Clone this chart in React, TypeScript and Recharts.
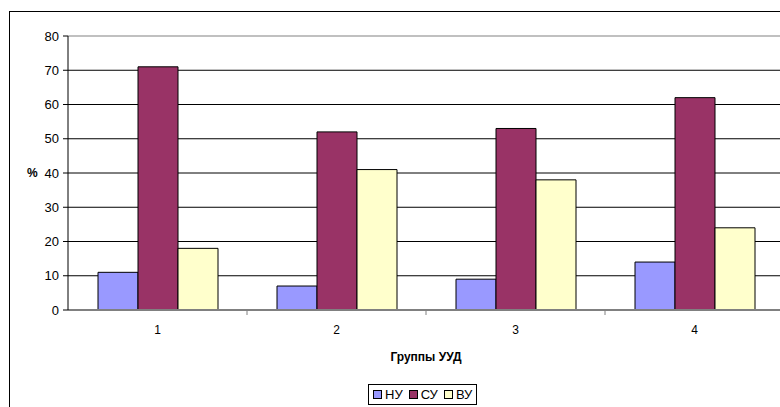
import { BarChart, Bar, XAxis, YAxis, CartesianGrid, Legend, ReferenceLine } from "recharts";

const groups = ["1", "2", "3", "4"];
const nu = [11, 7, 9, 14];
const su = [71, 52, 53, 62];
const vu = [18, 41, 38, 24];
const yTicks = [0, 10, 20, 30, 40, 50, 60, 70, 80];

const series = [
    { key: "nu", name: "НУ", color: "#9999FF" },
    { key: "su", name: "СУ", color: "#993366" },
    { key: "vu", name: "ВУ", color: "#FFFFCC" }
];

const data = groups.map((g, i) => ({ name: g, nu: nu[i], su: su[i], vu: vu[i] }));

const font = "'Liberation Sans', Arial, sans-serif";

// label in the middle of the category, small tick mark on the boundary to its right (Excel style)
function CategoryTick(props: any) {
    const { x, y, payload, index } = props;
    const half = payload && payload.offset ? payload.offset : 0;
    return (
        <g>
            {index < groups.length - 1 && (
                <line x1={x + half} x2={x + half} y1={y - 15} y2={y - 10} stroke="#808080" strokeWidth={1} />
            )}
            <text x={x} y={y} dy="0.71em" textAnchor="middle" fill="#000" fontSize={12} fontFamily={font}>
                {payload.value}
            </text>
        </g>
    );
}

function LegendBox() {
    return (
        <div
            style={{
                display: "inline-flex",
                alignItems: "center",
                border: "1px solid #000",
                background: "#fff",
                padding: "2px 4px",
                fontFamily: font,
                fontSize: 13,
                color: "#000",
                gap: 6
            }}
        >
            {series.map(s => (
                <span key={s.key} style={{ display: "inline-flex", alignItems: "center", gap: 3 }}>
                    <span style={{ width: 7, height: 7, background: s.color, border: "1px solid #000", display: "inline-block" }} />
                    {s.name}
                </span>
            ))}
        </div>
    );
}

export default function App() {
    return (
        <div style={{ position: "absolute", left: 0, top: 0, width: 780, height: 407, overflow: "hidden", background: "#fff" }}>
            <div style={{ position: "absolute", left: 9, top: 11, width: 800, height: 420, border: "1px solid #000" }} />
            <div style={{ position: "absolute", left: 0, top: 0 }}>
                <BarChart
                    width={800}
                    height={407}
                    data={data}
                    margin={{ top: 36, right: 16, left: 8, bottom: 46 }}
                    barCategoryGap={30}
                    barGap={0}
                >
                    <CartesianGrid vertical={false} stroke="#000" strokeWidth={1} />
                    <XAxis
                        dataKey="name"
                        tickLine={false}
                        tickSize={0}
                        tickMargin={15}
                        axisLine={{ stroke: "#808080", strokeWidth: 2 }}
                        tick={<CategoryTick />}
                        height={30}
                        label={{
                            value: "Группы УУД",
                            position: "bottom",
                            offset: 12,
                            style: { fill: "#000", fontSize: 12, fontWeight: "bold", fontFamily: font }
                        }}
                    />
                    <YAxis
                        domain={[0, 80]}
                        ticks={yTicks}
                        interval={0}
                        width={60}
                        tickSize={5}
                        tickLine={{ stroke: "#000" }}
                        axisLine={{ stroke: "#000" }}
                        tick={{ fill: "#000", fontSize: 13, fontFamily: font }}
                        tickMargin={4}
                        label={{
                            value: "%",
                            position: "insideLeft",
                            offset: 19,
                            style: { fill: "#000", fontSize: 12, fontWeight: "bold", fontFamily: font }
                        }}
                    />
                    <ReferenceLine y={80} stroke="#c0c0c0" strokeWidth={2} />
                    {series.map(s => (
                        <Bar
                            key={s.key}
                            dataKey={s.key}
                            name={s.name}
                            fill={s.color}
                            stroke="#000"
                            strokeWidth={1}
                            isAnimationActive={false}
                        />
                    ))}
                    <Legend
                        content={() => <LegendBox />}
                        wrapperStyle={{ left: 368, top: 384, width: "auto", bottom: "auto" }}
                    />
                </BarChart>
            </div>
        </div>
    );
}
